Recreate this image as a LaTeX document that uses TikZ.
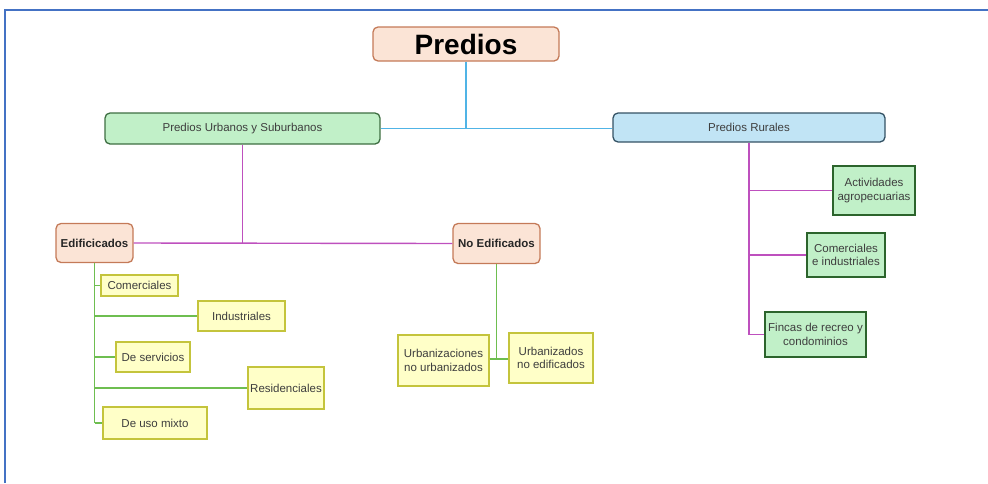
\documentclass[tikz,border=0pt]{standalone}
\usepackage{fontspec}
\setmainfont{Liberation Sans}
\definecolor{marco}{RGB}{68,114,196}
\definecolor{salmonfill}{RGB}{251,228,214}
\definecolor{salmonline}{RGB}{196,122,88}
\definecolor{verdefill}{RGB}{193,240,200}
\definecolor{verdeline}{RGB}{62,110,66}
\definecolor{azulfill}{RGB}{193,228,245}
\definecolor{azulline}{RGB}{52,82,100}
\definecolor{amarfill}{RGB}{255,255,200}
\definecolor{amarline}{RGB}{196,196,60}
\definecolor{rurline}{RGB}{44,100,44}
\definecolor{lazul}{RGB}{80,180,230}
\definecolor{lmagenta}{RGB}{190,80,190}
\definecolor{lverde}{RGB}{110,190,80}
\definecolor{gristxt}{RGB}{62,62,62}
\begin{document}
\begin{tikzpicture}[x=1pt,y=-1pt,
        caja/.style={draw,line width=1.3pt,inner sep=0pt,align=center,text=gristxt,
            font=\fontsize{11.5}{13.5}\selectfont},
        salmon/.style={caja,rounded corners=5pt,fill=salmonfill,draw=salmonline,text=black!85,
            font=\fontsize{11.5}{13.5}\selectfont\bfseries},
        urbana/.style={caja,rounded corners=5pt,fill=verdefill,draw=verdeline},
        rural/.style={caja,rounded corners=5pt,fill=azulfill,draw=azulline},
        amarilla/.style={caja,fill=amarfill,draw=amarline},
        verde/.style={caja,fill=verdefill,draw=rurline},
        rama/.style={line width=1.4pt}]
    \useasboundingbox (0,0) rectangle (988,483);
    \draw[marco,line width=2pt] (5,483) -- (5,10) -- (988,10);
    % niveles superiores
    \node[salmon,minimum width=186pt,minimum height=34pt,font=\fontsize{28}{30}\selectfont\bfseries,text=black]
        (predios) at (466,44) {Predios};
    \node[urbana,minimum width=275pt,minimum height=31pt] (urb) at (242.5,128.5) {Predios Urbanos y Suburbanos};
    \node[rural,minimum width=272pt,minimum height=29pt] (rur) at (749,127.5) {Predios Rurales};
    \node[salmon,minimum width=77pt,minimum height=39pt] (edif) at (94.5,243) {Edificicados};
    \node[salmon,minimum width=87pt,minimum height=40pt] (noedif) at (496.5,243.5) {No Edificados};
    % predios edificados
    \node[amarilla,minimum width=77pt,minimum height=21pt] (com) at (139.5,285.5) {Comerciales};
    \node[amarilla,minimum width=87pt,minimum height=30pt] (ind) at (241.5,316) {Industriales};
    \node[amarilla,minimum width=74pt,minimum height=30pt] (serv) at (153,357) {De servicios};
    \node[amarilla,minimum width=76pt,minimum height=42pt] (res) at (286,388) {Residenciales};
    \node[amarilla,minimum width=104pt,minimum height=32pt] (mixto) at (155,423) {De uso mixto};
    % no edificados
    \node[amarilla,minimum width=91pt,minimum height=51pt] (urbz) at (443.5,360.5) {Urbanizaciones\\no urbanizados};
    \node[amarilla,minimum width=84pt,minimum height=50pt] (urbd) at (551,358) {Urbanizados\\no edificados};
    % rurales
    \node[verde,minimum width=82pt,minimum height=49pt] (act) at (874,190.5) {Actividades\\agropecuarias};
    \node[verde,minimum width=78pt,minimum height=44pt] (comi) at (846,255) {Comerciales\\e industriales};
    \node[verde,minimum width=101pt,minimum height=45pt] (fin) at (815.5,334.5) {Fincas de recreo y\\condominios};
    % conectores
    \draw[rama,lazul] (predios.south) -- (predios.south |- urb.east);
    \draw[rama,lazul] (urb.east) -- (urb.east -| rur.west);
    \draw[rama,lmagenta] (urb.south) -- (urb.south |- edif.east);
    \draw[rama,lmagenta] (edif.east) -- (noedif.west);
    \draw[rama,lverde] (edif.south) -- (edif.south |- mixto.west);
    \foreach \h in {com,ind,serv,res,mixto}{
        \draw[rama,lverde] (edif.south |- \h.west) -- (\h.west);
    }
    \coordinate (nudo) at (496.5,359);
    \draw[rama,lverde] (noedif.south) -- (nudo);
    \draw[rama,lverde] (nudo -| urbz.east) -- (nudo -| urbd.west);
    \draw[rama,lmagenta] (rur.south) -- (rur.south |- fin.west);
    \foreach \h in {act,comi,fin}{
        \draw[rama,lmagenta] (rur.south |- \h.west) -- (\h.west);
    }
\end{tikzpicture}
\end{document}
